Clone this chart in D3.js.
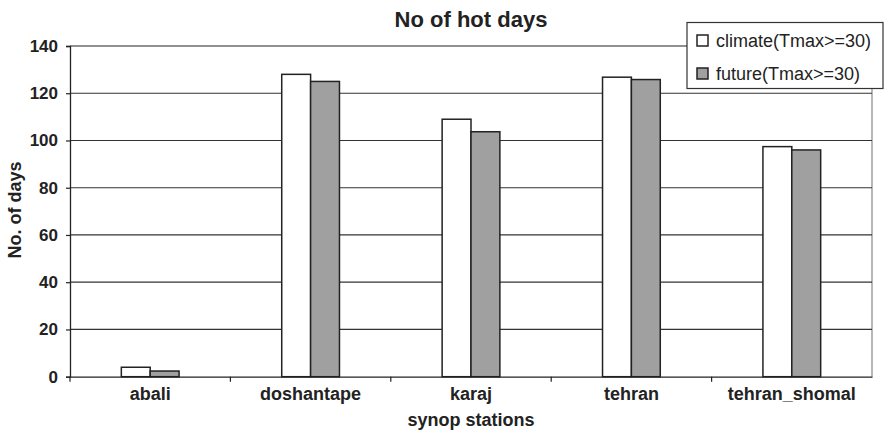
<!DOCTYPE html>
<html><head><meta charset="utf-8">
<script src="https://cdn.jsdelivr.net/npm/d3@7/dist/d3.min.js"></script>
<style>body{margin:0;background:#fff}svg{display:block;font-family:"Liberation Sans",Arial,sans-serif}</style>
</head><body><svg id="c" width="884" height="433"></svg>
<script>
const categories = ["abali","doshantape","karaj","tehran","tehran_shomal"];
const seriesNames = ["climate(Tmax>=30)","future(Tmax>=30)"];
const climate = [4, 128, 109, 126.8, 97.4];
const future = [2.4, 125, 103.7, 125.8, 96];
const yTicks = [0,20,40,60,80,100,120,140];
const colors = ["#ffffff","#a0a0a0"];

const svg = d3.select("#c");
const L = 70, R = 872, T = 46, B = 376.7;
const x = d3.scaleBand().domain(categories).range([L,R]).paddingInner(0.64).paddingOuter(0.32);
const xs = d3.scaleBand().domain([0,1]).range([0,x.bandwidth()]);
const y = d3.scaleLinear().domain([0,140]).range([B,T]);
const FF = "Liberation Sans, Arial, sans-serif";

svg.append("line").attr("x1",R).attr("x2",R).attr("y1",T).attr("y2",B).attr("stroke","#888").attr("stroke-width",1.2);
svg.append("g").selectAll("line").data(yTicks.filter(d=>d>0)).join("line")
  .attr("x1",L).attr("x2",R).attr("y1",d=>y(d)).attr("y2",d=>y(d))
  .attr("stroke",d=>d===140?"#222":"#333").attr("stroke-width",1.2);

const data = [climate, future];
const g = svg.append("g");
categories.forEach((c,i)=>{
  [0,1].forEach(s=>{
    const v = data[s][i];
    g.append("rect").attr("x",x(c)+xs(s)).attr("width",xs.bandwidth())
      .attr("y",y(v)).attr("height",B-y(v))
      .attr("fill",colors[s]).attr("stroke","#222").attr("stroke-width",1.5);
  });
});

const ya = svg.append("g").attr("transform",`translate(${L},0)`)
  .call(d3.axisLeft(y).tickValues(yTicks).tickSize(4).tickPadding(8));
ya.select(".domain").attr("stroke","#222").attr("stroke-width",1.3);
ya.selectAll(".tick line").attr("stroke","#222").attr("stroke-width",1.2);
ya.selectAll("text").attr("font-size",17).attr("font-weight","bold").attr("fill","#222").attr("font-family",FF);

const xa = svg.append("g").attr("transform",`translate(0,${B})`)
  .call(d3.axisBottom(x).tickSize(0).tickPadding(11).tickSizeOuter(0));
xa.select(".domain").attr("stroke","#222").attr("stroke-width",1.3);
xa.selectAll("text").attr("font-size",18).attr("font-weight","bold").attr("fill","#222").attr("font-family",FF);
const bounds = categories.slice(1).map(c=>x(c)-x.step()*x.paddingInner()/2);
bounds.push(L);
svg.append("g").selectAll("line").data(bounds).join("line")
  .attr("x1",d=>d).attr("x2",d=>d).attr("y1",B).attr("y2",B+5).attr("stroke","#222").attr("stroke-width",1.2);

svg.append("text").attr("x",471).attr("y",27).attr("text-anchor","middle")
  .attr("font-size",22).attr("font-weight","bold").attr("fill","#222").text("No of hot days");
svg.append("text").attr("x",471).attr("y",426).attr("text-anchor","middle")
  .attr("font-size",18).attr("font-weight","bold").attr("fill","#222").text("synop stations");
svg.append("text").attr("transform","translate(21,210) rotate(-90)").attr("text-anchor","middle")
  .attr("font-size",18).attr("font-weight","bold").attr("fill","#222").text("No. of days");

const lg = svg.append("g");
lg.append("rect").attr("x",687).attr("y",22.5).attr("width",196).attr("height",66)
  .attr("fill","#fff").attr("stroke","#333").attr("stroke-width",1.2);
seriesNames.forEach((n,i)=>{
  const yy = 35 + i*33;
  lg.append("rect").attr("x",697).attr("y",yy).attr("width",11).attr("height",11)
    .attr("fill",colors[i]).attr("stroke","#222").attr("stroke-width",1.5);
  lg.append("text").attr("x",716).attr("y",yy+12).attr("font-size",18).attr("fill","#222").text(n);
});
</script></body></html>
